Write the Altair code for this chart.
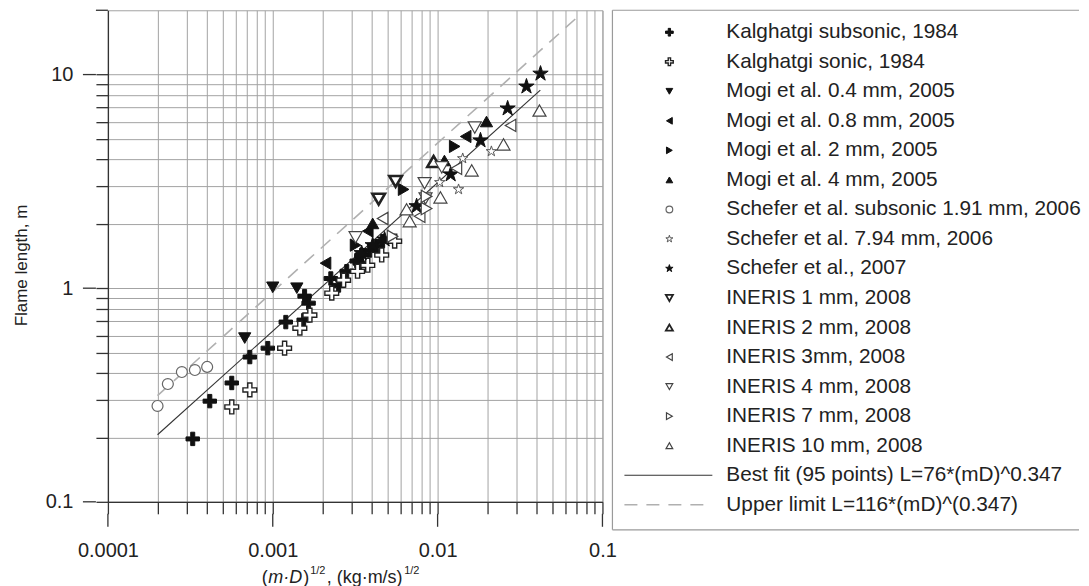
import altair as alt
import pandas as pd

FONT = "Liberation Sans"

# ---------------- data ----------------
kal_sub_x = [3.27e-4, 4.15e-4, 5.64e-4, 7.26e-4, 9.33e-4, 1.2e-3, 1.54e-3, 1.56e-3, 1.65e-3,
             2.25e-3, 2.51e-3, 2.65e-3, 2.81e-3, 3.23e-3, 3.37e-3, 3.46e-3, 3.87e-3, 4.27e-3, 4.64e-3]
kal_sub_y = [0.197, 0.296, 0.36, 0.476, 0.524, 0.694, 0.709, 0.918, 0.851,
             1.11, 1.03, 1.09, 1.2, 1.34, 1.31, 1.43, 1.5, 1.57, 1.66]
kal_son_x = [5.64e-4, 7.26e-4, 1.18e-3, 1.46e-3, 1.68e-3, 2.28e-3, 2.69e-3, 3.27e-3, 3.77e-3, 4.58e-3, 5.49e-3]
kal_son_y = [0.278, 0.334, 0.524, 0.65, 0.748, 0.948, 1.09, 1.2, 1.28, 1.43, 1.66]
mogi04_x = [6.76e-4, 1.0e-3, 1.40e-3]
mogi04_y = [0.584, 1.01, 1.0]
mogi08_x = [2.09e-3, 3.77e-3, 0.0148]
mogi08_y = [1.31, 1.85, 5.13]
mogi2_x = [3.18e-3, 6.22e-3, 0.0127]
mogi2_y = [1.59, 2.90, 4.61]
mogi4_x = [4.04e-3, 0.011, 0.0198]
mogi4_y = [2.01, 3.96, 6.03]
sch_sub_x = [2.0e-4, 2.31e-4, 2.81e-4, 3.37e-4, 4.0e-4]
sch_sub_y = [0.281, 0.356, 0.405, 0.414, 0.428]
sch794_x = [0.0103, 0.0134, 0.0142, 0.0212]
sch794_y = [3.13, 2.90, 4.05, 4.37]
sch07_x = [3.46e-3, 4.04e-3, 4.77e-3, 7.46e-3, 0.012, 0.0182, 0.0266, 0.0346, 0.0421]
sch07_y = [1.46, 1.59, 1.69, 2.42, 3.41, 4.92, 6.94, 8.79, 10.1]
in1_x = [4.39e-3, 5.56e-3]
in1_y = [2.61, 3.16]
in2_x = [9.46e-3]
in2_y = [3.92]
in3_x = [4.64e-3, 7.78e-3, 0.013, 0.0277]
in3_y = [2.12, 2.17, 3.64, 5.78]
in4_x = [3.18e-3, 8.34e-3, 8.45e-3, 0.0106, 0.0168]
in4_y = [1.73, 3.10, 2.63, 3.68, 5.65]
in7_x = [5.33e-3, 8.57e-3, 8.57e-3]
in7_y = [1.75, 2.36, 2.69]
in10_x = [6.48e-3, 6.77e-3, 0.0104, 0.0161, 0.0251, 0.0415]
in10_y = [2.34, 2.06, 2.66, 3.56, 4.71, 6.79]

# end points of the two straight (log-log) lines
fit_x = [0.0002, 0.042]
fit_y = [0.206, 8.45]
upper_x = [0.0002, 0.0695]
upper_y = [0.314, 18.4]

series_names = [
    "Kalghatgi subsonic, 1984", "Kalghatgi sonic, 1984",
    "Mogi et al. 0.4 mm, 2005", "Mogi et al. 0.8 mm, 2005",
    "Mogi et al. 2 mm, 2005", "Mogi et al. 4 mm, 2005",
    "Schefer et al. subsonic 1.91 mm, 2006", "Schefer et al. 7.94 mm, 2006",
    "Schefer et al., 2007", "INERIS 1 mm, 2008", "INERIS 2 mm, 2008",
    "INERIS 3mm, 2008", "INERIS 4 mm, 2008", "INERIS 7 mm, 2008",
    "INERIS 10 mm, 2008",
]
line_names = ["Best fit (95 points) L=76*(mD)^0.347", "Upper limit L=116*(mD)^(0.347)"]
series_xy = [(kal_sub_x, kal_sub_y), (kal_son_x, kal_son_y), (mogi04_x, mogi04_y),
             (mogi08_x, mogi08_y), (mogi2_x, mogi2_y), (mogi4_x, mogi4_y),
             (sch_sub_x, sch_sub_y), (sch794_x, sch794_y), (sch07_x, sch07_y),
             (in1_x, in1_y), (in2_x, in2_y), (in3_x, in3_y), (in4_x, in4_y),
             (in7_x, in7_y), (in10_x, in10_y)]

x_ticks = [round(m * 10.0 ** e, 12) for e in (-4, -3, -2) for m in range(1, 10)] + [0.1]
y_ticks = [round(m * 0.1, 12) for m in range(1, 10)] + list(range(1, 10)) + [10]
y_top = [20]
x_major = [0.0001, 0.001, 0.01, 0.1]
y_major = [0.1, 1, 10]
x_title_parts = ["(", "m·D", ")", "1/2", ", (kg·m/s)", "1/2"]

# ---------------- styles ----------------
STAR = ("M0,-1 L0.2245,-0.309 L0.951,-0.309 L0.363,0.118 L0.588,0.809 L0,0.382 "
        "L-0.588,0.809 L-0.363,0.118 L-0.951,-0.309 L-0.2245,-0.309 Z")
PLUS = "M-1,-0.3 H-0.3 V-1 H0.3 V-0.3 H1 V0.3 H0.3 V1 H-0.3 V0.3 H-1 Z"
shapes = [PLUS, PLUS, "triangle-down", "triangle-left", "triangle-right", "triangle-up",
          "circle", STAR, STAR, "triangle-down", "triangle-up", "triangle-left",
          "triangle-down", "triangle-right", "triangle-up"]
fills = ["#111", "#fff", "#111", "#111", "#111", "#111", "#fff", "#fff", "#111",
         "#fff", "#fff", "#fff", "#fff", "#fff", "#fff"]
strokes = ["#111", "#222", "#111", "#111", "#111", "#111", "#666", "#555", "#111",
           "#222", "#222", "#444", "#444", "#444", "#444"]
widths = [1, 1.4, 1, 1, 1, 1, 1.2, 1, 1, 2.6, 2.6, 1.2, 1.2, 1.2, 1.2]
plot_sizes = [180, 190, 150, 150, 150, 150, 120, 120, 260, 160, 160, 150, 170, 150, 170]
leg_sizes = [60, 60, 45, 45, 45, 45, 45, 55, 60, 50, 50, 45, 45, 45, 45]
# x-axis title pieces: (style, font size, left offset, vertical shift)
x_title_style = [("normal", 18, 154, 0), ("italic", 18, 160.5, 0), ("normal", 18, 195.5, 0),
                 ("normal", 11, 202.5, -7), ("normal", 18, 219, 0), ("normal", 11, 296.5, -7)]

W, H = 495, 492
GRID = "#a3a3a3"
AX = "#333333"
BOX = "#9a9a9a"

x_label = ("datum.value == 0.0001 ? '0.0001' : datum.value == 0.001 ? '0.001' : "
           "datum.value == 0.01 ? '0.01' : datum.value == 0.1 ? '0.1' : ''")
y_label = ("datum.value == 0.1 ? '0.1' : datum.value == 1 ? '1' : "
           "datum.value == 10 ? '10' : ''")

xscale = alt.Scale(type="log", domain=[0.0001, 0.1], nice=False)
yscale = alt.Scale(type="log", domain=[0.1, 20], nice=False)
xaxis = alt.Axis(values=x_ticks, grid=True, gridColor=GRID, gridWidth=1, tickSize=12,
                 tickColor=AX, tickWidth=1.3, domainColor=AX, domainWidth=1.3,
                 labelExpr=x_label, labelFont=FONT, labelFontSize=20, labelColor="#222",
                 labelPadding=27, labelOverlap=False, labelFlush=False, labelBound=False,
                 title=None)
yaxis = alt.Axis(values=y_ticks, grid=True, gridColor=GRID, gridWidth=1, tickSize=12,
                 tickColor=AX, tickWidth=1.3, domainColor=AX, domainWidth=1.3,
                 labelExpr=y_label, labelFont=FONT, labelFontSize=20, labelColor="#222",
                 labelPadding=23, labelOverlap=False, labelFlush=False, labelBound=False,
                 title="Flame length, m", titleFont=FONT, titleFontSize=17,
                 titleFontWeight="normal", titleColor="#222", titleAngle=270,
                 titleX=-86, titleY=255, titleAlign="center", titleBaseline="middle")


def X(field="x"):
    return alt.X(f"{field}:Q", scale=xscale, axis=xaxis)


def Y(field="y"):
    return alt.Y(f"{field}:Q", scale=yscale, axis=yaxis)


layers = []
for i, (name, (xs, ys)) in enumerate(zip(series_names, series_xy)):
    df = pd.DataFrame({"x": xs, "y": ys, "series": name})
    layers.append(
        alt.Chart(df).mark_point(shape=shapes[i], fill=fills[i], stroke=strokes[i],
                                 strokeWidth=widths[i], size=plot_sizes[i], opacity=1,
                                 fillOpacity=1)
        .encode(x=X(), y=Y())
    )

fit_df = pd.DataFrame({"x": fit_x, "y": fit_y})
up_df = pd.DataFrame({"x": upper_x, "y": upper_y})
fit_line = alt.Chart(fit_df).mark_line(color="#333", strokeWidth=1.1).encode(x=X(), y=Y())
up_line = alt.Chart(up_df).mark_line(color="#b0b0b0", strokeWidth=1.6,
                                     strokeDash=[13, 9]).encode(x=X(), y=Y())

# longer ticks at the decades, and the short tick at the top of the y axis
xmaj = alt.Chart(pd.DataFrame({"x": x_major})).mark_rule(color=AX, strokeWidth=1.3).encode(
    x=X(), y=alt.value(H + 12), y2=alt.value(H + 25))
ymaj = alt.Chart(pd.DataFrame({"y": y_major})).mark_rule(color=AX, strokeWidth=1.3).encode(
    y=Y(), x=alt.value(-25), x2=alt.value(-12))
ytop = alt.Chart(pd.DataFrame({"y": y_top})).mark_rule(color=AX, strokeWidth=1.3).encode(
    y=Y(), x=alt.value(-12), x2=alt.value(0))

# x-axis title with superscripts
title_layers = []
for txt, (style, fs, px, dy) in zip(x_title_parts, x_title_style):
    title_layers.append(
        alt.Chart(pd.DataFrame({"t": [txt]})).mark_text(
            align="left", baseline="middle", font=FONT, fontSize=fs, fontStyle=style,
            color="#222", dy=dy).encode(text="t:N", x=alt.value(px), y=alt.value(H + 76))
    )

plot = alt.layer(up_line, fit_line, *layers, xmaj, ymaj, ytop, *title_layers).properties(
    width=W, height=H, view=alt.ViewBackground(stroke=GRID, strokeWidth=1))

# ---------------- legend panel (box open on the right, as in the cropped original) ----
LW, LH = 467, 520
row_scale = alt.Scale(domain=[-0.744, 16.848], reverse=True)
leg_layers = []
for i, name in enumerate(series_names):
    leg_layers.append(
        alt.Chart(pd.DataFrame({"i": [i]})).mark_point(
            shape=shapes[i], fill=fills[i], stroke=strokes[i], strokeWidth=min(widths[i], 1.8),
            size=leg_sizes[i], opacity=1, fillOpacity=1)
        .encode(x=alt.value(57), y=alt.Y("i:Q", scale=row_scale, axis=None))
    )
all_names = series_names + line_names
text_df = pd.DataFrame({"i": list(range(len(all_names))), "label": all_names})
leg_text = alt.Chart(text_df).mark_text(align="left", baseline="middle", font=FONT,
                                        fontSize=20.8, color="#222").encode(
    x=alt.value(114), y=alt.Y("i:Q", scale=row_scale, axis=None), text="label:N")
leg_fit = alt.Chart(pd.DataFrame({"i": [15]})).mark_rule(color="#333", strokeWidth=1.1).encode(
    x=alt.value(12), x2=alt.value(100), y=alt.Y("i:Q", scale=row_scale, axis=None))
leg_up = alt.Chart(pd.DataFrame({"i": [16]})).mark_rule(
    color="#b0b0b0", strokeWidth=1.6, strokeDash=[13, 9]).encode(
    x=alt.value(12), x2=alt.value(100), y=alt.Y("i:Q", scale=row_scale, axis=None))
box_top = alt.Chart(pd.DataFrame({"k": [0]})).mark_rule(color=BOX, strokeWidth=1.2).encode(
    x=alt.value(0), x2=alt.value(LW), y=alt.value(0))
box_bottom = alt.Chart(pd.DataFrame({"k": [0]})).mark_rule(color=BOX, strokeWidth=1.2).encode(
    x=alt.value(0), x2=alt.value(LW), y=alt.value(LH))
box_left = alt.Chart(pd.DataFrame({"k": [0]})).mark_rule(color=BOX, strokeWidth=1.2).encode(
    x=alt.value(0), y=alt.value(0), y2=alt.value(LH))

legend = alt.layer(box_top, box_bottom, box_left, *leg_layers, leg_text, leg_fit,
                   leg_up).properties(
    width=LW, height=LH, view=alt.ViewBackground(strokeOpacity=0))

chart = alt.hconcat(plot, legend, spacing=10, bounds="flush").properties(
    padding={"left": 4, "top": 0, "right": 0, "bottom": 0}
).configure(font=FONT, background="white")

chart.save("out.html", embed_options={"renderer": "svg", "actions": False})
